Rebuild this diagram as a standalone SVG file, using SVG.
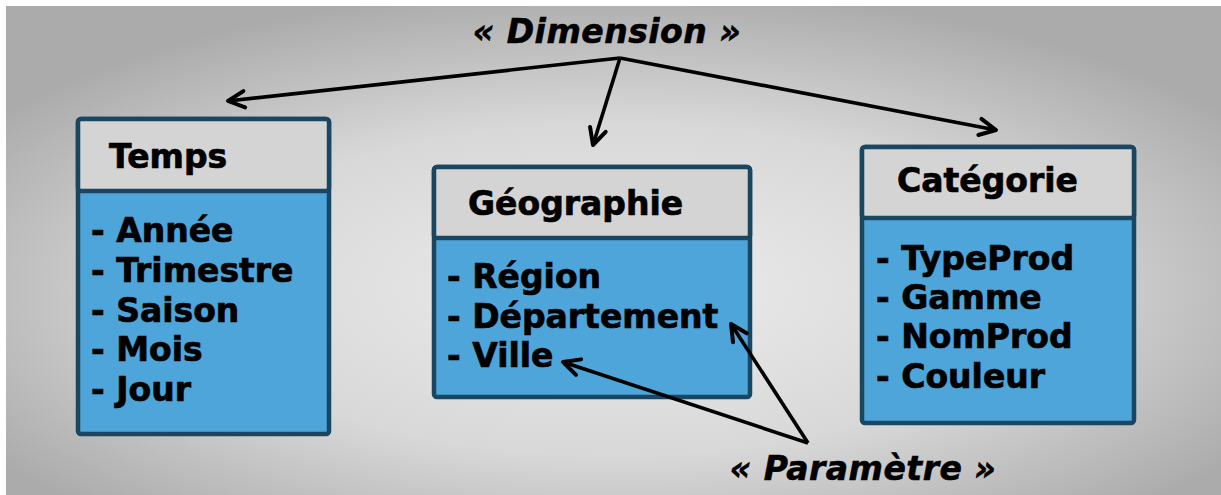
<svg xmlns="http://www.w3.org/2000/svg" width="1221" height="495" viewBox="0 0 1221 495">
  <defs>
    <radialGradient id="bg" cx="50%" cy="58%" r="62%">
      <stop offset="0" stop-color="#ececec"/>
      <stop offset="0.55" stop-color="#d8d8d8"/>
      <stop offset="1" stop-color="#ababab"/>
    </radialGradient>
    <marker id="open" viewBox="0 0 20 20" refX="17" refY="10" markerWidth="6.5" markerHeight="6.5" markerUnits="strokeWidth" orient="auto">
      <path d="M3,3 L17,10 L3,17" fill="none" stroke="#000" stroke-width="3.4" stroke-linejoin="round" stroke-linecap="round"/>
    </marker>
    <style>
      .frame { fill: #4ea5d9; stroke: #1b4661; stroke-width: 4.5; }
      .head { fill: #d4d4d4; stroke: #1b4661; stroke-width: 4.5; }
      .title, .item { font-family: "DejaVu Sans", Verdana, sans-serif; font-weight: bold; font-size: 33px; fill: #000; stroke: #000; stroke-width: 0.7; }
      .stereo { font-family: "DejaVu Sans", Verdana, sans-serif; font-weight: bold; font-style: italic; font-size: 33px; letter-spacing: 0.5px; fill: #000; stroke: #000; stroke-width: 0.6; }
      .link { fill: none; stroke: #000; stroke-width: 3.6; marker-end: url(#open); }
    </style>
  </defs>

  <rect x="0" y="0" width="1221" height="495" fill="#ffffff"/>
  <rect x="6" y="6" width="1215" height="489" fill="url(#bg)"/>

  <!-- stereotype labels -->
  <text class="stereo" x="607" y="43" text-anchor="middle">« Dimension »</text>
  <text class="stereo" x="863" y="480" text-anchor="middle">« Paramètre »</text>

  <!-- Temps class -->
  <g id="temps">
    <rect class="frame" x="78" y="119" width="251" height="315" rx="3"/>
    <rect class="head" x="78" y="119" width="251" height="72" rx="3"/>
    <text class="title" x="109" y="168">Temps</text>
    <text class="item" x="91" y="242">- Année</text>
    <text class="item" x="91" y="282">- Trimestre</text>
    <text class="item" x="91" y="322">- Saison</text>
    <text class="item" x="91" y="361">- Mois</text>
    <text class="item" x="91" y="401">- Jour</text>
  </g>

  <!-- Géographie class -->
  <g id="geographie">
    <rect class="frame" x="434" y="167" width="316" height="230" rx="3"/>
    <rect class="head" x="434" y="167" width="316" height="71" rx="3"/>
    <text class="title" x="468" y="215">Géographie</text>
    <text class="item" x="447" y="288">- Région</text>
    <text class="item" x="447" y="328">- Département</text>
    <text class="item" x="447" y="367">- Ville</text>
  </g>

  <!-- Catégorie class -->
  <g id="categorie">
    <rect class="frame" x="862" y="147" width="272" height="276" rx="3"/>
    <rect class="head" x="862" y="147" width="272" height="71" rx="3"/>
    <text class="title" x="897" y="192">Catégorie</text>
    <text class="item" x="876" y="270">- TypeProd</text>
    <text class="item" x="876" y="309">- Gamme</text>
    <text class="item" x="876" y="348">- NomProd</text>
    <text class="item" x="876" y="388">- Couleur</text>
  </g>

  <!-- connectors -->
  <g id="connectors">
    <path class="link" d="M620,58 L228,101"/>
    <path class="link" d="M620,58 L593,145"/>
    <path class="link" d="M620,58 L996,130"/>
    <path class="link" d="M808,443 L731,324"/>
    <path class="link" d="M808,443 L563,362"/>
  </g>
</svg>
